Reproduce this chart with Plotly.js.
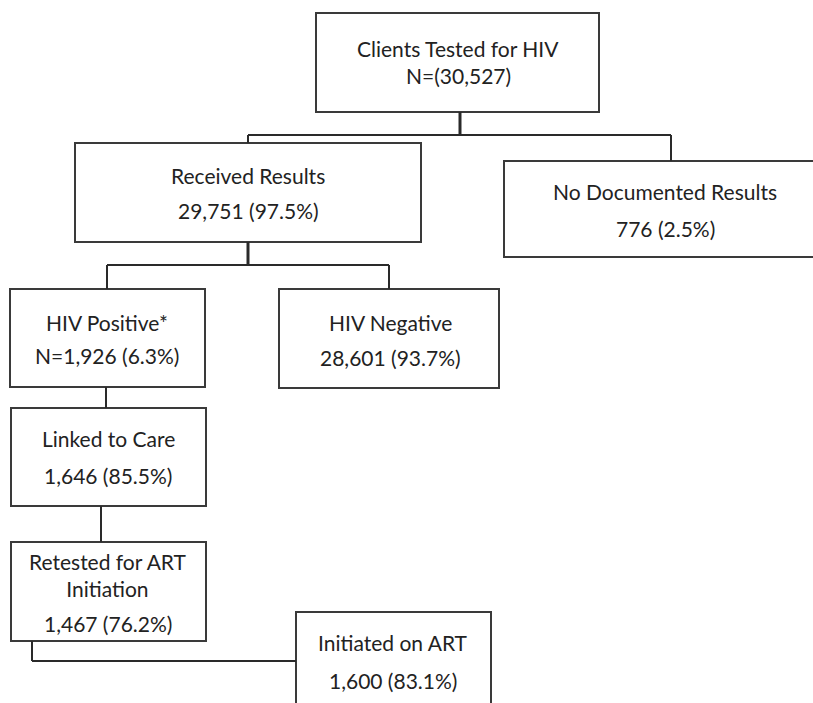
<!DOCTYPE html>
<html>
<head>
<meta charset="utf-8">
<script src="https://cdn.plot.ly/plotly-3.0.1.min.js"></script>
<style>html,body{margin:0;padding:0;background:#fff;}#chart{width:813px;height:703px;}</style>
</head>
<body>
<div id="chart"></div>
<script>
// ---- Data ----
const stages = ["Clients Tested for HIV", "Received Results", "No Documented Results",
  "HIV Positive*", "HIV Negative", "Linked to Care", "Retested for ART<br>Initiation", "Initiated on ART"];
const counts = [30527, 29751, 776, 1926, 28601, 1646, 1467, 1600];
const percents = [null, 97.5, 2.5, 6.3, 93.7, 85.5, 76.2, 83.1];
const countPrefix = ["N=(", "", "", "N=", "", "", "", ""];
const countSuffix = [")", "", "", "", "", "", "", ""];

// ---- Layout geometry (positions only) ----
const boxes = [
  {x0:316, y0:13,  x1:599, y1:112, cx:458, ty:[48, 75]},
  {x0:75,  y0:143, x1:421, y1:242, cx:248, ty:[175, 210]},
  {x0:504, y0:161, x1:840, y1:257, cx:665, ty:[191, 228]},
  {x0:10,  y0:289, x1:205, y1:387, cx:107, ty:[322, 355]},
  {x0:279, y0:289, x1:499, y1:388, cx:390, ty:[322, 357]},
  {x0:11,  y0:408, x1:206, y1:506, cx:108, ty:[438, 475]},
  {x0:11,  y0:542, x1:206, y1:641, cx:108, ty:[574.5, 623]},
  {x0:296, y0:612, x1:491, y1:730, cx:393, ty:[642, 680]}
];
const connectors = [
  {p:[[460,112],[460,135]], w:3},
  {p:[[248,135],[671,135]], w:2},
  {p:[[248,135],[248,143]], w:2},
  {p:[[671,135],[671,161]], w:2},
  {p:[[248,242],[248,265]], w:3},
  {p:[[107,265],[389,265]], w:2},
  {p:[[107,265],[107,289]], w:2},
  {p:[[389,265],[389,289]], w:2},
  {p:[[106,387],[106,408]], w:2},
  {p:[[101,506],[101,542]], w:2},
  {p:[[32,641],[32,661]], w:2},
  {p:[[32,661],[296,661]], w:2}
];

function fmt(n){ return n.toLocaleString("en-US"); }
function valueText(i){
  let s = countPrefix[i] + fmt(counts[i]) + countSuffix[i];
  if (percents[i] !== null) s += " (" + percents[i].toFixed(1) + "%)";
  return s;
}

const lineColor = "#3a3a3a";
const textColor = "#222222";
const font = {family: "Lato, 'Open Sans', sans-serif", size: 21, color: textColor};

const shapes = [];
const annotations = [];
boxes.forEach((b, i) => {
  shapes.push({type:"rect", xref:"x", yref:"y", x0:b.x0, x1:b.x1, y0:b.y0, y1:b.y1,
    line:{color:lineColor, width:2}, fillcolor:"rgba(0,0,0,0)"});
  annotations.push({xref:"x", yref:"y", x:b.cx, y:b.ty[0], text:stages[i], showarrow:false,
    xanchor:"center", yanchor:"middle", font:font, align:"center"});
  annotations.push({xref:"x", yref:"y", x:b.cx, y:b.ty[1], text:valueText(i), showarrow:false,
    xanchor:"center", yanchor:"middle", font:font, align:"center"});
});
connectors.forEach(c => {
  shapes.push({type:"line", xref:"x", yref:"y", x0:c.p[0][0], y0:c.p[0][1], x1:c.p[1][0], y1:c.p[1][1],
    line:{color:"#2a2a2a", width:c.w}});
});

const layout = {
  width: 813, height: 703,
  margin: {l:0, r:0, t:0, b:0},
  paper_bgcolor: "#ffffff", plot_bgcolor: "#ffffff",
  xaxis: {range:[0,813], visible:false, fixedrange:true},
  yaxis: {range:[703,0], visible:false, fixedrange:true},
  showlegend: false,
  shapes: shapes,
  annotations: annotations
};
Plotly.newPlot("chart", [], layout, {staticPlot:true, displayModeBar:false});
</script>
</body>
</html>
